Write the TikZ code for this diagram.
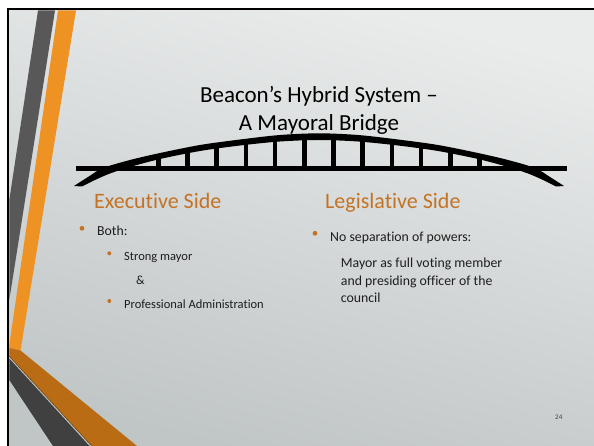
\documentclass[tikz,border=0pt]{standalone}
\usepackage{fontspec}
\setmainfont{Carlito}[Ligatures=CommonOff]
\definecolor{bgtop}{RGB}{234,236,236}
\definecolor{bgbot}{RGB}{192,197,197}
\definecolor{bandgray}{RGB}{88,88,88}
\definecolor{bandorange}{RGB}{238,146,36}
\definecolor{diagorange}{RGB}{186,108,20}
\definecolor{diaggray}{RGB}{64,64,64}
\definecolor{headorange}{RGB}{195,115,35}
\definecolor{bodytext}{RGB}{30,30,30}
\tikzset{
  txt/.style={inner sep=0pt, anchor=base west, text=bodytext},
  titletxt/.style={inner sep=0pt, anchor=base, text=black, font=\fontsize{23}{27}\selectfont},
  headtxt/.style={inner sep=0pt, anchor=base west, text=headorange, font=\fontsize{22}{26}\selectfont},
  lvlone/.style={txt, font=\fontsize{13.8}{17}\selectfont},
  lvltwo/.style={txt, font=\fontsize{12.5}{15}\selectfont},
  bul/.style={fill=headorange, draw=none},
}
\begin{document}
\begin{tikzpicture}[x=1pt,y=-1pt]
\useasboundingbox (0,0) rectangle (594,446);
\fill[white] (0,0) rectangle (594,446);
% slide background
\shade[top color=bgtop, bottom color=bgbot, shading angle=-15] (8.3,9.5) rectangle (594,446);
% left decoration bands
\fill[bandgray] (38,10.5) -- (55,10.5) -- (9.3,300) -- (9.3,200) -- cycle;
\fill[bandorange] (58,10.5) -- (76,10.5) -- (20.5,350.5) -- (9.3,348) -- (9.3,345) -- cycle;
\fill[diagorange] (9.3,348) -- (20.5,350.5) -- (137,446) -- (92,446) -- (9.3,356) -- cycle;
\draw[diagorange!60!black, line width=0.6pt] (9.3,356.3) -- (92,446.3);
\fill[diaggray] (9.3,358.5) -- (89.5,446) -- (53,446) -- (9.3,380) -- cycle;
% frame
\draw[black, line width=2pt] (594,9.5) -- (8.3,9.5) -- (8.3,446);
% bridge
\fill[black] (76,166.5) rectangle (567,170.7);
\fill[black] plot[smooth] coordinates {(74,186) (88,177) (103,168) (130,160) (160,153) (200,145) (240,139.5) (280,135) (319,133.3) (358,135) (398,139.5) (438,145) (478,153) (508,160) (535,168) (550,177) (564,186)}
  -- plot[smooth] coordinates {(556,186.5) (543,180) (528,173.5) (508,167) (478,159) (438,151) (398,145.5) (358,141.5) (319,140) (280,141.5) (240,145.5) (200,151) (160,159) (130,167) (110,173.5) (95,180) (82,186.5)} -- cycle;
\foreach \dx/\top in {14.6/139, 43.8/141, 73/143.5, 102.2/147.5, 131.4/152, 160.6/157.5}{
  \fill[black] (318.8+\dx-2.3,\top) rectangle (318.8+\dx+2.3,168);
  \fill[black] (318.8-\dx-2.3,\top) rectangle (318.8-\dx+2.3,168);
}
% title
\node[titletxt] (t1) at (319,102.7) {Beacon’s Hybrid System –};
\node[titletxt] (t2) at (319,130.7) {A Mayoral Bridge};
% headings
\node[headtxt] (exec) at (94,208.3) {Executive Side};
\node[headtxt] (leg) at (325,209) {Legislative Side};
% left column
\fill[bul] (82,228.3) circle (2.4);
\node[lvlone] (both) at (97,236) {Both:};
\fill[bul] (109.3,253.3) circle (2);
\node[lvltwo] (strong) at (124,260.7) {Strong mayor};
\node[lvltwo] (amp) at (136,284) {\&};
\fill[bul] (109.3,301) circle (2);
\node[lvltwo] (prof) at (124,308) {Professional Administration};
% right column
\fill[bul] (315,233.3) circle (2.4);
\node[lvlone] (nosep) at (330,241.7) {No separation of powers:};
\node[lvlone] (m1) at (340.7,267.3) {Mayor as full voting member};
\node[lvlone] (m2) at (340.7,285) {and presiding officer of the};
\node[lvlone] (m3) at (340.7,302.7) {council};
% page number
\node[inner sep=0pt, anchor=base west, text=black!75, font=\fontsize{7}{8}\selectfont] (pg) at (555,419) {24};
\end{tikzpicture}
\end{document}
